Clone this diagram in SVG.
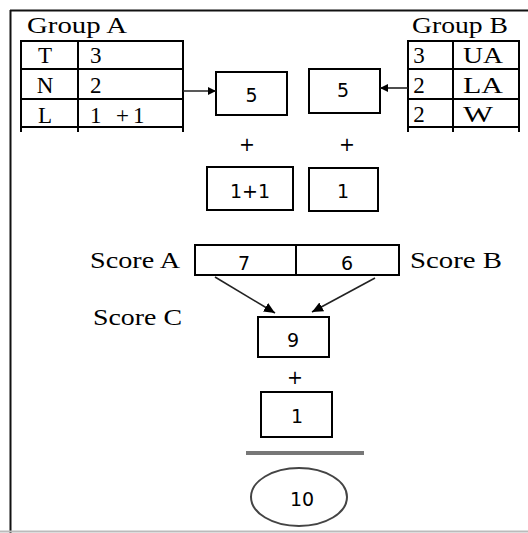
<svg xmlns="http://www.w3.org/2000/svg" width="528" height="533" viewBox="0 0 528 533">
  <defs>
    <style>
      .ln { stroke: #000; stroke-width: 2; fill: none; }
      .box { stroke: #000; stroke-width: 2; fill: #fff; }
      .serif { font-family: "Liberation Serif", "Times New Roman", serif; font-size: 23px; fill: #000; }
      .num { font-family: "DejaVu Sans", Verdana, sans-serif; font-size: 19px; fill: #000; text-anchor: middle; }
      .mid { text-anchor: middle; }
      .conn { stroke: #222; stroke-width: 1.6; fill: none; }
    </style>
    <marker id="head" viewBox="0 0 10 10" refX="10" refY="5" markerWidth="8" markerHeight="8" markerUnits="userSpaceOnUse" orient="auto">
      <path d="M0,0 L10,5 L0,10 Z" fill="#000"/>
    </marker>
    <marker id="headL" viewBox="0 0 10 10" refX="10" refY="5" markerWidth="11" markerHeight="11" markerUnits="userSpaceOnUse" orient="auto">
      <path d="M0,0.5 L10,5 L0,9.5 Z" fill="#000"/>
    </marker>
  </defs>

  <rect width="528" height="533" fill="#fff"/>

  <!-- outer frame -->
  <g id="frame">
    <line x1="10.5" y1="10" x2="10.5" y2="533" stroke="#111" stroke-width="2"/>
    <line x1="10" y1="10.5" x2="528" y2="10.5" stroke="#111" stroke-width="2"/>
    <line x1="0" y1="531.5" x2="528" y2="531.5" stroke="#bbb" stroke-width="2"/>
  </g>

  <!-- Group A table -->
  <g id="groupA">
    <text class="serif" x="27" y="33" textLength="100" lengthAdjust="spacingAndGlyphs">Group A</text>
    <rect class="ln" x="21" y="41" width="162" height="86"/>
    <line class="ln" x1="21" y1="69" x2="183" y2="69"/>
    <line class="ln" x1="21" y1="99" x2="183" y2="99"/>
    <line class="ln" x1="21" y1="127" x2="21" y2="132"/>
    <line class="ln" x1="78" y1="41" x2="78" y2="132"/>
    <line class="ln" x1="183" y1="127" x2="183" y2="132"/>
    <text class="serif mid" x="45" y="63">T</text>
    <text class="serif mid" x="45" y="93">N</text>
    <text class="serif mid" x="45" y="123">L</text>
    <text class="serif" x="90" y="63">3</text>
    <text class="serif" x="90" y="93">2</text>
    <text class="serif" y="123"><tspan x="90">1</tspan><tspan x="116">+</tspan><tspan x="133">1</tspan></text>
  </g>

  <!-- Group B table -->
  <g id="groupB">
    <text class="serif" x="412" y="33" textLength="96" lengthAdjust="spacingAndGlyphs">Group B</text>
    <rect class="ln" x="408" y="41" width="111" height="86"/>
    <line class="ln" x1="408" y1="69" x2="519" y2="69"/>
    <line class="ln" x1="408" y1="99" x2="519" y2="99"/>
    <line class="ln" x1="408" y1="127" x2="408" y2="132"/>
    <line class="ln" x1="453" y1="41" x2="453" y2="132"/>
    <line class="ln" x1="519" y1="127" x2="519" y2="132"/>
    <text class="serif mid" x="419" y="63">3</text>
    <text class="serif mid" x="419" y="93">2</text>
    <text class="serif mid" x="419" y="122">2</text>
    <text class="serif" x="463" y="63" textLength="40" lengthAdjust="spacingAndGlyphs">UA</text>
    <text class="serif" x="463" y="93" textLength="40" lengthAdjust="spacingAndGlyphs">LA</text>
    <text class="serif" x="463" y="122" textLength="30" lengthAdjust="spacingAndGlyphs">W</text>
  </g>

  <!-- partial sums -->
  <g id="sumA">
    <rect class="box" x="216" y="72" width="71" height="43"/>
    <text class="num" x="251.5" y="102">5</text>
  </g>
  <g id="sumB">
    <rect class="box" x="309" y="69" width="71" height="44"/>
    <text class="num" x="343" y="97">5</text>
  </g>
  <g id="plusA"><text class="num" x="247" y="151" font-size="20">+</text></g>
  <g id="plusB"><text class="num" x="347" y="151" font-size="20">+</text></g>
  <g id="bonusA">
    <rect class="box" x="207" y="167" width="86" height="43"/>
    <text class="num" x="250" y="198">1+1</text>
  </g>
  <g id="bonusB">
    <rect class="box" x="309" y="168" width="69" height="43"/>
    <text class="num" x="343" y="198">1</text>
  </g>

  <!-- score row -->
  <g id="scores">
    <text class="serif" x="90" y="268" textLength="90" lengthAdjust="spacingAndGlyphs">Score A</text>
    <rect class="box" x="195" y="245" width="204" height="30"/>
    <line class="ln" x1="296" y1="245" x2="296" y2="275"/>
    <text class="num" x="244" y="270">7</text>
    <text class="num" x="347" y="270">6</text>
    <text class="serif" x="410" y="268" textLength="92" lengthAdjust="spacingAndGlyphs">Score B</text>
  </g>
  <g id="scoreC">
    <text class="serif" x="93" y="325" textLength="89" lengthAdjust="spacingAndGlyphs">Score C</text>
    <rect class="box" x="258" y="317" width="71" height="40"/>
    <text class="num" x="293" y="347">9</text>
  </g>
  <g id="plusC"><text class="num" x="295" y="384" font-size="20">+</text></g>
  <g id="bonusC">
    <rect class="box" x="261" y="392" width="71" height="45"/>
    <text class="num" x="297" y="423">1</text>
  </g>
  <g id="total">
    <line x1="246" y1="453" x2="364" y2="453" stroke="#777" stroke-width="4"/>
    <ellipse cx="299" cy="497" rx="48" ry="29" fill="#fff" stroke="#444" stroke-width="2"/>
    <text class="num" x="302" y="506">10</text>
  </g>

  <!-- connectors -->
  <g id="connectors">
    <line class="conn" x1="183" y1="91" x2="216" y2="91" marker-end="url(#head)"/>
    <line class="conn" x1="408" y1="88" x2="380" y2="88" marker-end="url(#head)"/>
    <line class="conn" x1="215" y1="277" x2="275" y2="313" marker-end="url(#headL)"/>
    <line class="conn" x1="375" y1="278" x2="312" y2="312" marker-end="url(#headL)"/>
  </g>
</svg>
